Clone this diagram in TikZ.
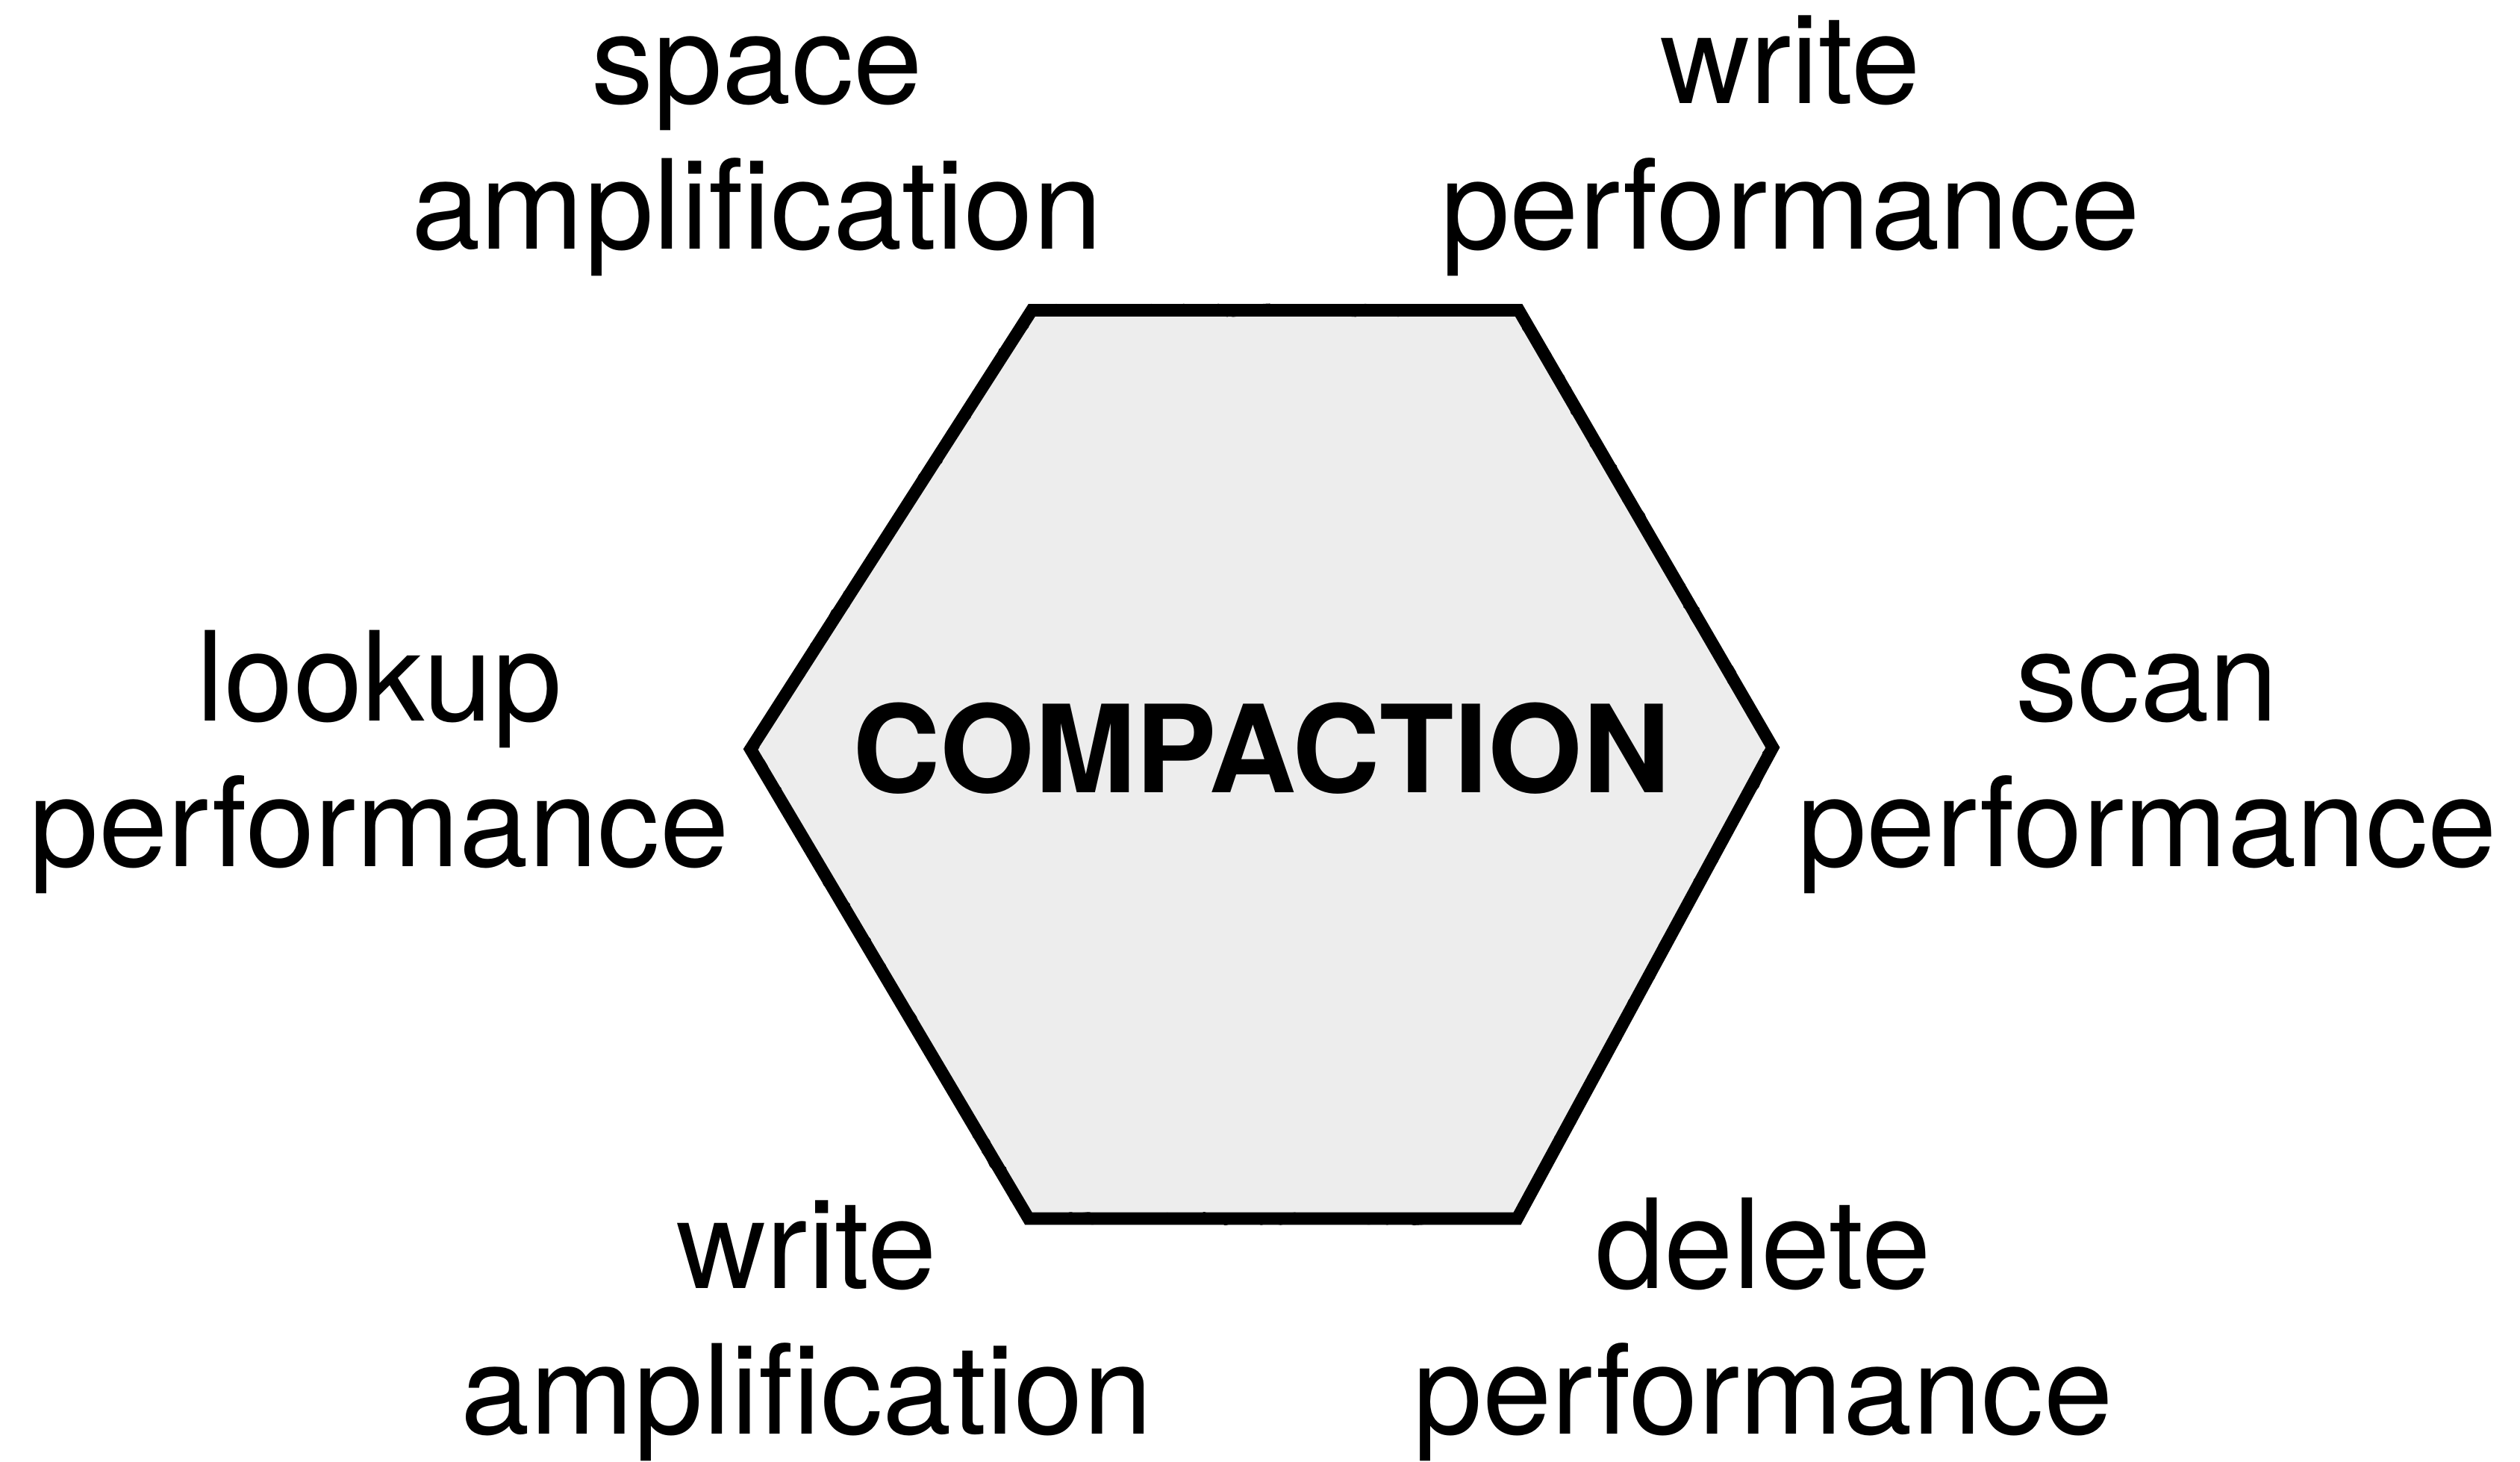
\documentclass[tikz,border=0pt]{standalone}
\usepackage{fontspec}
\setmainfont{TeX Gyre Heros}
\usetikzlibrary{decorations.pathmorphing}

\definecolor{hexfill}{HTML}{EDEDED}

\begin{document}
\begin{tikzpicture}[
    trade/.style={align=center, anchor=base, font=\fontsize{22}{25.8}\selectfont},
    rough/.style={draw=black, line width=1pt, line join=round,
      decorate, decoration={random steps, segment length=1pt, amplitude=0.7pt}}
  ]
  \pgfmathsetseed{7}
  \useasboundingbox (0,0) rectangle (15.68,9.09);

  % Hexagon corners.
  \coordinate (tl) at (6.42, 7.16);
  \coordinate (tr) at (9.45, 7.16);
  \coordinate (rt) at (11.03, 4.44);
  \coordinate (br) at (9.44, 1.51);
  \coordinate (bl) at (6.40, 1.51);
  \coordinate (lt) at (4.67, 4.43);

  % Grey hexagon with a chalky outline.
  \fill[hexfill] (tl) -- (tr) -- (rt) -- (br) -- (bl) -- (lt) -- cycle;
  \draw[line width=2.2pt, line join=miter] (tl) -- (tr) -- (rt) -- (br) -- (bl) -- (lt) -- cycle;
  \draw[rough] (tl) -- (tr) -- (rt) -- (br) -- (bl) -- (lt) -- cycle;

  \node[anchor=base, font=\fontsize{21.5}{24}\selectfont\bfseries] (core) at (7.85, 4.16)
    {COMPACTION};

  % The six trade-offs round the hexagon (anchored on the last line).
  \node[trade] (spaceamp) at (4.71, 7.54) {space\\amplification};
  \node[trade] (writeperf) at (11.14, 7.54) {write\\performance};
  \node[trade] (lookupperf) at (2.36, 3.70) {lookup\\performance};
  \node[trade] (scanperf) at (13.36, 3.70) {scan\\performance};
  \node[trade] (writeamp) at (5.02, 0.17) {write\\amplification};
  \node[trade] (deleteperf) at (10.97, 0.17) {delete\\performance};

\end{tikzpicture}
\end{document}
